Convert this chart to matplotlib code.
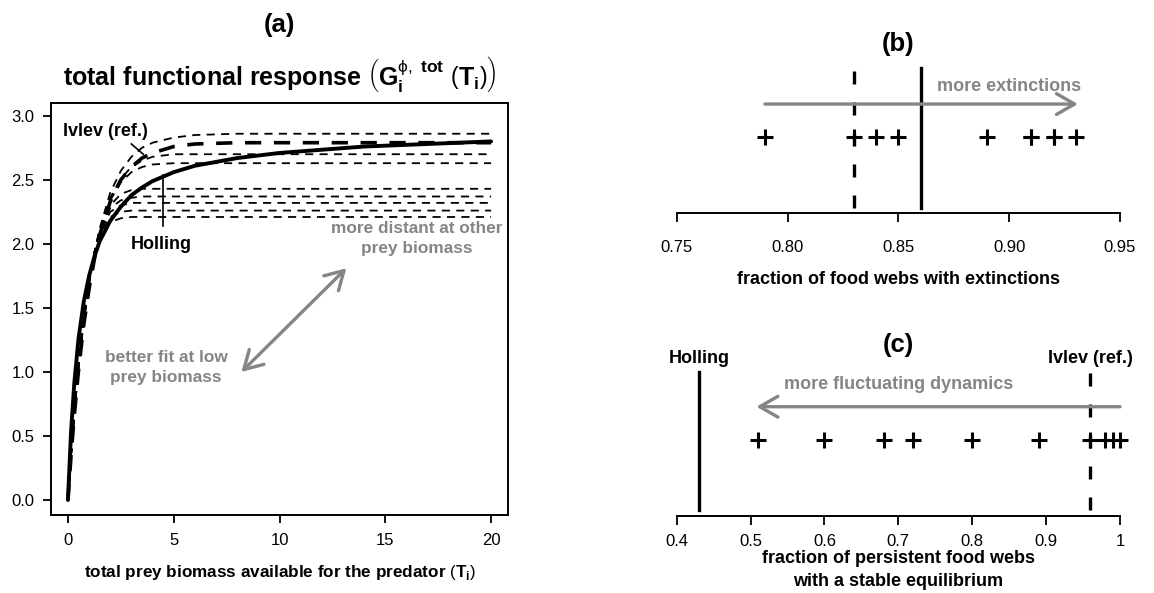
import matplotlib
matplotlib.use('Agg')
import matplotlib.pyplot as plt

plt.rcParams['font.family'] = ['Liberation Sans', 'DejaVu Sans']
plt.rcParams['mathtext.fontset'] = 'custom'
plt.rcParams['mathtext.rm'] = 'Liberation Sans'
plt.rcParams['mathtext.bf'] = 'Liberation Sans:bold'
plt.rcParams['mathtext.it'] = 'Liberation Sans:italic'

# --- panel (a): total functional response vs total prey biomass ---
prey = [0, 0.15, 0.3, 0.5, 0.75, 1, 1.25, 1.5, 2, 2.5, 3, 3.5, 4, 5, 6, 8, 10, 14, 20]
holling = [0, 0.54, 0.91, 1.26, 1.55, 1.75, 1.90, 2.02, 2.18, 2.29, 2.38, 2.44, 2.49,
           2.56, 2.61, 2.67, 2.71, 2.76, 2.80]
ivlev = [0, 0.35, 0.66, 1.01, 1.37, 1.65, 1.88, 2.07, 2.33, 2.50, 2.60, 2.67, 2.71,
         2.76, 2.78, 2.79, 2.79, 2.79, 2.79]
other1 = [0, 0.36, 0.68, 1.03, 1.40, 1.69, 1.93, 2.12, 2.40, 2.57, 2.68, 2.75, 2.79,
          2.83, 2.85, 2.86, 2.86, 2.86, 2.86]
other2 = [0, 0.36, 0.68, 1.04, 1.40, 1.69, 1.93, 2.11, 2.36, 2.51, 2.60, 2.65, 2.68,
          2.70, 2.70, 2.70, 2.70, 2.70, 2.70]
other3 = [0, 0.36, 0.68, 1.04, 1.40, 1.69, 1.92, 2.10, 2.34, 2.48, 2.56, 2.60, 2.62,
          2.63, 2.63, 2.63, 2.63, 2.63, 2.63]
other4 = [0, 0.36, 0.68, 1.04, 1.41, 1.70, 1.93, 2.10, 2.30, 2.39, 2.42, 2.43, 2.43,
          2.43, 2.43, 2.43, 2.43, 2.43, 2.43]
other5 = [0, 0.36, 0.69, 1.05, 1.42, 1.70, 1.93, 2.09, 2.28, 2.34, 2.36, 2.37, 2.37,
          2.37, 2.37, 2.37, 2.37, 2.37, 2.37]
other6 = [0, 0.36, 0.69, 1.06, 1.43, 1.71, 1.93, 2.08, 2.25, 2.30, 2.32, 2.32, 2.32,
          2.32, 2.32, 2.32, 2.32, 2.32, 2.32]
other7 = [0, 0.37, 0.70, 1.07, 1.44, 1.72, 1.93, 2.07, 2.21, 2.25, 2.26, 2.26, 2.26,
          2.26, 2.26, 2.26, 2.26, 2.26, 2.26]
other8 = [0, 0.37, 0.70, 1.07, 1.44, 1.72, 1.92, 2.05, 2.17, 2.20, 2.21, 2.21, 2.21,
          2.21, 2.21, 2.21, 2.21, 2.21, 2.21]
others = [other1, other2, other3, other4, other5, other6, other7, other8]

# --- panel (b): fraction of food webs with extinctions ---
extinct_others = [0.79, 0.83, 0.84, 0.85, 0.89, 0.91, 0.91, 0.92, 0.92, 0.93]
extinct_holling = 0.86
extinct_ivlev = 0.83
b_ticks = [0.75, 0.80, 0.85, 0.90, 0.95]

# --- panel (c): fraction of persistent food webs with a stable equilibrium ---
stable_others = [0.51, 0.60, 0.68, 0.72, 0.80, 0.89, 0.96, 0.98, 0.99, 1.0]
stable_holling = 0.43
stable_ivlev = 0.96
c_ticks = [0.4, 0.5, 0.6, 0.7, 0.8, 0.9, 1.0]
c_labels = ['0.4', '0.5', '0.6', '0.7', '0.8', '0.9', '1']

grey = '#858585'
W, H = 1154, 593

fig = plt.figure(figsize=(W / 100, H / 100), dpi=100)

# ---------------- (a) ----------------
ax = fig.add_axes([51 / W, 1 - 515 / H, 457 / W, 412 / H])
for ys in others:
    ax.plot(prey, ys, color='black', lw=1.3, dashes=(4.5, 3.5))
ax.plot(prey, ivlev, color='black', lw=2.6, dashes=(4.5, 3.5))
ax.plot(prey, holling, color='black', lw=2.8, solid_capstyle='round')
ax.set_xlim(-0.8, 20.8)
ax.set_ylim(-0.117, 3.10)
ax.set_xticks([0, 5, 10, 15, 20])
ax.set_yticks([0, 0.5, 1, 1.5, 2, 2.5, 3])
ax.set_yticklabels(['0.0', '0.5', '1.0', '1.5', '2.0', '2.5', '3.0'])
ax.tick_params(axis='both', length=6, width=1.3, labelsize=12)
ax.tick_params(axis='x', pad=7)
ax.tick_params(axis='y', pad=6)
for s in ax.spines.values():
    s.set_linewidth(1.4)

ax.text(1.79, 2.844, 'Ivlev (ref.)', fontsize=13, fontweight='bold', ha='center', va='baseline')
ax.plot([3.0, 3.56], [2.78, 2.70], color='black', lw=1.2)
ax.text(4.40, 1.959, 'Holling', fontsize=13, fontweight='bold', ha='center', va='baseline')
ax.plot([4.5, 4.5], [2.54, 2.14], color='black', lw=1.2)
ax.text(16.5, 1.927, 'more distant at other\nprey biomass', fontsize=12.4, fontweight='bold',
        color=grey, ha='center', va='baseline', linespacing=1.4)
ax.text(4.63, 0.924, 'better fit at low\nprey biomass', fontsize=12.4, fontweight='bold',
        color=grey, ha='center', va='baseline', linespacing=1.4)
ax.annotate('', xy=(8.2, 1.0), xytext=(13.16, 1.81),
            arrowprops=dict(arrowstyle='<->,head_length=1.3,head_width=0.75', color=grey,
                            lw=2.4, shrinkA=0, shrinkB=0, mutation_scale=10))

cx = (51 + 508) / 2 / W
fig.text(cx, 1 - 32 / H, '(a)', fontsize=18.5, fontweight='bold', ha='center', va='baseline')
fig.text(cx, 1 - 85 / H,
         r'total functional response $\left(\mathbf{G}_{\mathbf{i}}^{\mathrm{\phi},\ \mathbf{tot}}\ \left(\mathbf{T}_{\mathbf{i}}\right)\right)$',
         fontsize=18, fontweight='bold', ha='center', va='baseline')
fig.text(cx, 1 - 578 / H,
         r'total prey biomass available for the predator $\left(\mathbf{T}_{\mathbf{i}}\right)$',
         fontsize=12.3, fontweight='bold', ha='center', va='baseline')


def strip_axis(a, lo, hi, ticks, labels, pad):
    a.set_xlim(lo, hi)
    a.set_ylim(0, 1)
    for side in ['top', 'right', 'left']:
        a.spines[side].set_visible(False)
    a.spines['bottom'].set_linewidth(1.4)
    a.set_yticks([])
    a.set_xticks(ticks)
    a.set_xticklabels(labels)
    a.tick_params(axis='x', length=6.5, width=1.3, labelsize=12, pad=pad)
    a.patch.set_alpha(0)


# ---------------- (b) ----------------
bx = fig.add_axes([676.7 / W, 1 - 213 / H, 443.3 / W, 160 / H])
strip_axis(bx, 0.75, 0.95, b_ticks, ['0.75', '0.80', '0.85', '0.90', '0.95'], 13)
bx.plot([extinct_ivlev, extinct_ivlev], [0.033, 0.904], color='black', lw=2.4, dashes=(3.9, 5.4))
bx.plot([extinct_holling, extinct_holling], [0.033, 0.904], color='black', lw=2.4)
bx.annotate('', xy=(0.931, 0.681), xytext=(0.7898, 0.681),
            arrowprops=dict(arrowstyle='->,head_length=1.3,head_width=0.75', color=grey,
                            lw=2.4, shrinkA=0, shrinkB=0, mutation_scale=10, capstyle='round'))
bx.text(0.900, 0.764, 'more extinctions', fontsize=13, fontweight='bold', color=grey,
        ha='center', va='baseline')
bx.plot(extinct_others, [0.477] * len(extinct_others), linestyle='none', marker='+',
        ms=12, mew=2.2, color='black', clip_on=False)
bx.text(0.5, 1.0125, '(b)', transform=bx.transAxes, fontsize=18.5, fontweight='bold',
        ha='center', va='baseline')
bx.text(0.5, -0.444, 'fraction of food webs with extinctions', transform=bx.transAxes,
        fontsize=13, fontweight='bold', ha='center', va='baseline')

# ---------------- (c) ----------------
cxa = fig.add_axes([676.7 / W, 1 - 516 / H, 443.3 / W, 160 / H])
strip_axis(cxa, 0.4, 1.0, c_ticks, c_labels, 6.5)
cxa.plot([stable_ivlev, stable_ivlev], [0.0375, 0.902], color='black', lw=2.4, dashes=(3.9, 5.4))
cxa.plot([stable_holling, stable_holling], [0.0375, 0.902], color='black', lw=2.4)
cxa.annotate('', xy=(0.508, 0.683), xytext=(1.0, 0.683),
             arrowprops=dict(arrowstyle='->,head_length=1.3,head_width=0.75', color=grey,
                             lw=2.4, shrinkA=0, shrinkB=0, mutation_scale=10),
             annotation_clip=False)
cxa.text(0.70, 0.794, 'more fluctuating dynamics', fontsize=13, fontweight='bold', color=grey,
         ha='center', va='baseline')
cxa.plot(stable_others, [0.475] * len(stable_others), linestyle='none', marker='+',
         ms=12, mew=2.2, color='black', clip_on=False)
cxa.text(stable_holling, 0.954, 'Holling', fontsize=13, fontweight='bold', ha='center', va='baseline')
cxa.text(stable_ivlev, 0.954, 'Ivlev (ref.)', fontsize=13, fontweight='bold', ha='center',
         va='baseline', clip_on=False)
cxa.text(0.5, 1.027, '(c)', transform=cxa.transAxes, fontsize=18.5, fontweight='bold',
         ha='center', va='baseline')
cxa.text(0.5, -0.296, 'fraction of persistent food webs', transform=cxa.transAxes,
         fontsize=13, fontweight='bold', ha='center', va='baseline')
cxa.text(0.5, -0.4375, 'with a stable equilibrium', transform=cxa.transAxes,
         fontsize=13, fontweight='bold', ha='center', va='baseline')

fig.savefig('out.png', dpi=100)
